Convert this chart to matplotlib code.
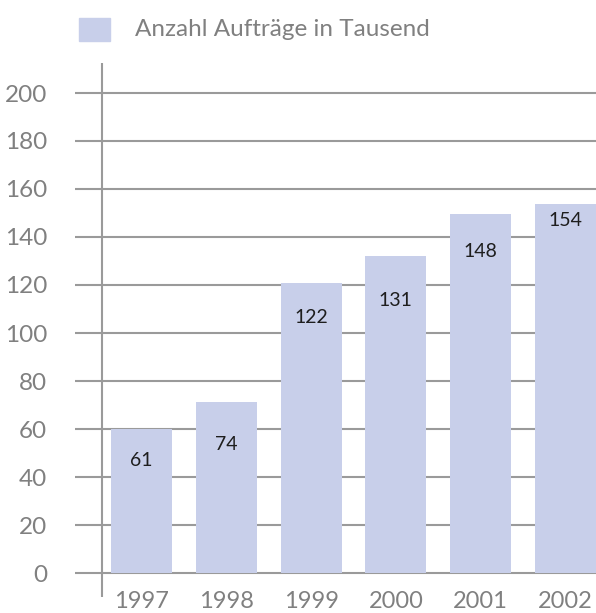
import matplotlib
matplotlib.use("Agg")
from matplotlib import pyplot as plt
from matplotlib.patches import Rectangle

years = ['1997', '1998', '1999', '2000', '2001', '2002']
labels = ['61', '74', '122', '131', '148', '154']
# bar heights as drawn in the picture
heights = [60, 71.3, 120.8, 132.1, 149.6, 153.8]
yticks = [0, 20, 40, 60, 80, 100, 120, 140, 160, 180, 200]
legend_label = 'Anzahl Aufträge in Tausend'

# label centre below bar top, in pixels
label_drop = [32, 43, 34, 45, 38, 17]

bar_col = '#c8cfea'
grid_col = '#9a9a9a'
txt_col = '#808080'

plt.rcParams['font.family'] = ['Lato', 'DejaVu Sans']

W, H = 596, 613
fig = plt.figure(figsize=(W / 100, H / 100), dpi=100)
# axes box in pixels: left 75, right 596, top 63, bottom 597
ax = fig.add_axes([75 / W, (H - 597) / H, (596 - 75) / W, (597 - 63) / H])
ax.set_xlim(-0.784, 5.36)
ax.set_ylim(-10, 212.5)

for y in yticks:
    ax.axhline(y, color=grid_col, lw=1.5, zorder=1)
ax.axvline(-0.466, color=grid_col, lw=1.5, zorder=1)

x = list(range(len(years)))
ax.bar(x, heights, width=0.72, color=bar_col, zorder=2)

for i in x:
    ax.annotate(labels[i], (i, heights[i]), xytext=(0, -label_drop[i] * 0.72),
                textcoords='offset points', ha='center', va='center',
                fontsize=14, color='#1e1e1e', zorder=3)

for s in ax.spines.values():
    s.set_visible(False)
ax.set_yticks(yticks)
ax.set_yticklabels([str(v) for v in yticks])
ax.set_xticks(x)
ax.set_xticklabels(years)
ax.tick_params(axis='y', length=0, pad=20, labelsize=17.5, labelcolor=txt_col)
ax.tick_params(axis='x', length=0, pad=-4, labelsize=17, labelcolor=txt_col)

# legend drawn by hand: swatch + text
fig.patches.append(Rectangle((79 / W, 1 - 41 / H), 31 / W, 23 / H,
                             transform=fig.transFigure, color=bar_col))
fig.text(135 / W, 1 - 29 / H, legend_label, ha='left', va='center',
         fontsize=17.5, color=txt_col)

fig.savefig('out.png', dpi=100)
